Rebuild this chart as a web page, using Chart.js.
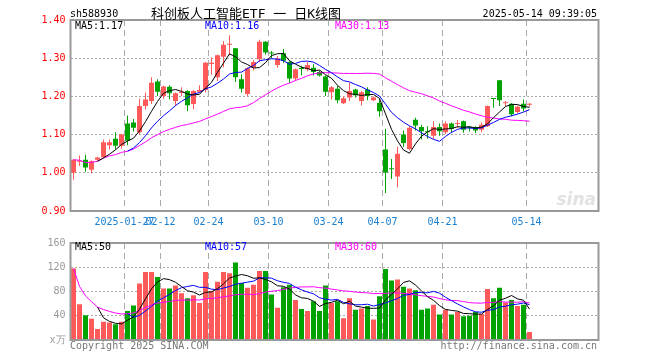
<!DOCTYPE html>
<html>
<head>
<meta charset="utf-8">
<script src="https://cdn.jsdelivr.net/npm/chart.js@4"></script>
<style>
  body { margin: 0; background: #fff; }
  #wrap { position: relative; width: 660px; height: 360px; }
  canvas { position: absolute; left: 0; }
  #kline { top: 0; }
  #vol { top: 232px; }
</style>
</head>
<body>
<div id="wrap">
  <canvas id="kline" width="660" height="232"></canvas>
  <canvas id="vol" width="660" height="128"></canvas>
</div>
<script>
// trading days shown on the chart
const dates = [
  '2025-01-14','2025-01-15','2025-01-16','2025-01-17','2025-01-20','2025-01-21','2025-01-22','2025-01-23','2025-01-24','2025-01-27',
  '2025-02-05','2025-02-06','2025-02-07','2025-02-10','2025-02-11','2025-02-12','2025-02-13','2025-02-14','2025-02-17','2025-02-18',
  '2025-02-19','2025-02-20','2025-02-21','2025-02-24','2025-02-25','2025-02-26','2025-02-27','2025-02-28','2025-03-03','2025-03-04',
  '2025-03-05','2025-03-06','2025-03-07','2025-03-10','2025-03-11','2025-03-12','2025-03-13','2025-03-14','2025-03-17','2025-03-18',
  '2025-03-19','2025-03-20','2025-03-21','2025-03-24','2025-03-25','2025-03-26','2025-03-27','2025-03-28','2025-03-31','2025-04-01',
  '2025-04-02','2025-04-03','2025-04-07','2025-04-08','2025-04-09','2025-04-10','2025-04-11','2025-04-14','2025-04-15','2025-04-16',
  '2025-04-17','2025-04-18','2025-04-21','2025-04-22','2025-04-23','2025-04-24','2025-04-25','2025-04-28','2025-04-29','2025-04-30',
  '2025-05-06','2025-05-07','2025-05-08','2025-05-09','2025-05-12','2025-05-13','2025-05-14'
];
const axisDates = ['2025-01-27','2025-02-12','2025-02-24','2025-03-10','2025-03-24','2025-04-07','2025-04-21','2025-05-14'];

const openP = [
  1.000,1.029,1.034,1.008,1.034,1.041,1.072,1.089,1.071,1.129,
  1.132,1.106,1.175,1.188,1.239,1.201,1.225,1.188,1.209,1.214,
  1.180,1.212,1.217,1.285,1.250,1.304,1.335,1.326,1.245,1.206,
  1.275,1.297,1.343,1.313,1.282,1.313,1.290,1.247,1.273,1.271,
  1.275,1.264,1.252,1.211,1.220,1.182,1.197,1.218,1.188,1.218,
  1.190,1.183,1.061,1.010,0.990,1.100,1.062,1.139,1.120,1.107,
  1.097,1.120,1.106,1.129,1.128,1.135,1.118,1.120,1.113,1.122,
  1.194,1.242,1.182,1.181,1.159,1.181,1.178
];
const highP = [
  1.036,1.045,1.047,1.033,1.042,1.087,1.087,1.106,1.102,1.150,
  1.141,1.194,1.210,1.250,1.245,1.228,1.229,1.210,1.224,1.216,
  1.216,1.229,1.290,1.302,1.310,1.345,1.360,1.327,1.258,1.276,
  1.295,1.348,1.345,1.319,1.306,1.324,1.292,1.273,1.280,1.290,
  1.284,1.268,1.255,1.227,1.227,1.200,1.236,1.220,1.214,1.224,
  1.200,1.194,1.115,1.036,1.068,1.111,1.122,1.144,1.126,1.122,
  1.135,1.129,1.135,1.132,1.138,1.137,1.122,1.122,1.132,1.176,
  1.194,1.243,1.188,1.183,1.176,1.192,1.183
];
const lowP = [
  0.982,1.018,1.003,0.998,1.032,1.040,1.061,1.061,1.063,1.072,
  1.108,1.100,1.166,1.180,1.201,1.194,1.192,1.175,1.201,1.161,
  1.166,1.211,1.210,1.257,1.240,1.276,1.308,1.238,1.210,1.200,
  1.268,1.290,1.310,1.300,1.275,1.288,1.236,1.240,1.255,1.266,
  1.255,1.252,1.201,1.192,1.182,1.180,1.188,1.197,1.176,1.190,
  1.188,1.147,0.947,0.984,0.962,1.068,1.059,1.111,1.087,1.089,
  1.089,1.097,1.101,1.105,1.118,1.105,1.108,1.104,1.106,1.120,
  1.170,1.175,1.175,1.148,1.155,1.161,1.173
];
const closeP = [
  1.034,1.032,1.014,1.030,1.040,1.080,1.080,1.071,1.100,1.084,
  1.118,1.175,1.192,1.236,1.212,1.226,1.208,1.208,1.212,1.177,
  1.214,1.217,1.288,1.288,1.308,1.335,1.338,1.250,1.220,1.274,
  1.290,1.343,1.315,1.312,1.299,1.293,1.247,1.271,1.272,1.282,
  1.264,1.255,1.212,1.224,1.190,1.195,1.214,1.203,1.211,1.201,
  1.197,1.161,1.001,1.009,1.050,1.078,1.118,1.124,1.109,1.106,
  1.120,1.109,1.129,1.115,1.130,1.113,1.117,1.111,1.126,1.175,
  1.193,1.190,1.184,1.153,1.173,1.168,1.179
];
// volume, 10k lots
const volume = [
  118,59,41,35,18,30,29,26,30,48,
  57,93,112,112,104,85,85,90,77,69,
  74,61,112,81,96,112,110,128,94,86,
  91,114,114,75,53,87,91,66,51,48,
  64,48,90,61,64,36,69,50,52,56,
  34,72,117,98,100,88,85,82,50,52,
  58,42,50,42,46,39,40,46,43,84,
  69,86,62,66,56,58,13
];
const priceTicks = [0.9, 1.0, 1.1, 1.2, 1.3, 1.4];
const volTicks = [0, 40, 80, 120, 160];

const UP = '#ff5a5a';
const DOWN = '#00a300';
const GRID = '#aaaaaa';
const FRAME = '#999999';
const MONO = '"DejaVu Sans Mono", monospace';
const SLOTS = 88;

// moving average indicator, MA30 falls back to the running mean at the start (as sina does)
function ma(src, n, fromStart) {
  return src.map((v, i) => {
    if (i < n - 1 && !fromStart) return null;
    const s = src.slice(Math.max(0, i - n + 1), i + 1);
    return s.reduce((a, b) => a + b, 0) / s.length;
  });
}

const labels = dates.concat(new Array(SLOTS - dates.length).fill(''));
const axisIdx = axisDates.map(d => dates.indexOf(d));
const candleColors = closeP.map((c, i) => c >= openP[i] ? UP : DOWN);

Chart.defaults.font.family = MONO;
Chart.defaults.font.size = 10;

const frame = {
  id: 'frame',
  afterDraw(chart) {
    const { ctx, chartArea: a } = chart;
    ctx.save();
    ctx.strokeStyle = FRAME;
    ctx.lineWidth = 2;
    ctx.strokeRect(a.left, a.top, a.right - a.left, a.bottom - a.top);
    ctx.restore();
  }
};

function xScale(showTicks) {
  return {
    type: 'category',
    offset: true,
    grid: {
      offset: true,
      drawTicks: false,
      lineWidth: 1,
      color: c => axisIdx.includes(c.index) ? GRID : 'rgba(0,0,0,0)'
    },
    border: { display: false, dash: [6, 4] },
    ticks: {
      display: showTicks,
      autoSkip: false,
      maxRotation: 0,
      padding: 5,
      labelOffset: -3,
      color: '#1a7fd0',
      callback: function (v, i) {
        const d = labels[i];
        if (!axisDates.includes(d)) return '';
        return d === axisDates[0] ? d : d.slice(5);
      }
    },
    afterFit: s => { s.height = showTicks ? 21 : 20; }
  };
}

function maText(ctx, items, y) {
  ctx.font = '10px ' + MONO;
  ctx.textAlign = 'left';
  ctx.textBaseline = 'alphabetic';
  items.forEach(t => { ctx.fillStyle = t[2]; ctx.fillText(t[0], t[1], y); });
}

new Chart(document.getElementById('kline'), {
  type: 'bar',
  data: {
    labels: labels,
    datasets: [
      { type: 'line', data: ma(closeP, 5), borderColor: '#000000', borderWidth: 1, pointRadius: 0, order: 1 },
      { type: 'line', data: ma(closeP, 10), borderColor: '#0000ff', borderWidth: 1, pointRadius: 0, order: 1 },
      { type: 'line', data: ma(closeP, 30, true), borderColor: '#ff00ff', borderWidth: 1, pointRadius: 0, order: 1 },
      { data: openP.map((o, i) => [o, closeP[i]]), backgroundColor: candleColors, barThickness: 5,
        minBarLength: 1, grouped: false, inflateAmount: 0, order: 2 },
      { data: lowP.map((l, i) => [l, highP[i]]), backgroundColor: candleColors, barThickness: 1,
        grouped: false, inflateAmount: 0, order: 3 }
    ]
  },
  options: {
    responsive: false,
    animation: false,
    devicePixelRatio: 1,
    layout: { padding: { top: 20, right: 61.5, left: 0, bottom: 0 } },
    plugins: { legend: { display: false }, tooltip: { enabled: false } },
    scales: {
      x: xScale(true),
      y: {
        min: 0.9,
        max: 1.4,
        afterBuildTicks: s => { s.ticks = priceTicks.map(v => ({ value: v })); },
        grid: { drawTicks: false, color: GRID, lineWidth: 1 },
        border: { display: false, dash: [2, 2] },
        ticks: { color: '#ff0000', padding: 5, callback: v => v.toFixed(2) },
        afterFit: s => { s.width = 70.5; }
      }
    }
  },
  plugins: [frame, {
    id: 'texts',
    beforeDatasetsDraw(chart) {
      const ctx = chart.ctx;
      ctx.save();
      ctx.font = 'italic bold 17px "DejaVu Sans", sans-serif';
      ctx.fillStyle = '#e2e2e2';
      ctx.textAlign = 'right';
      ctx.fillText('sina', 596, 205);
      ctx.restore();
    },
    afterDraw(chart) {
      const ctx = chart.ctx;
      ctx.save();
      ctx.fillStyle = '#000';
      ctx.font = '10px ' + MONO;
      ctx.textAlign = 'left';
      ctx.fillText('sh588930', 70, 17);
      ctx.textAlign = 'right';
      ctx.fillText('2025-05-14 09:39:05', 597, 17);
      ctx.font = '13px ' + MONO + ', "Noto Sans CJK SC"';
      ctx.font = '13px "DejaVu Sans Mono", "Noto Sans CJK SC", monospace';
      ctx.textAlign = 'left';
      ctx.fillText('科创板人工智能ETF 一 日K线图', 151, 18);
      maText(ctx, [['MA5:1.17', 75, '#000000'], ['MA10:1.16', 205, '#0000ff'], ['MA30:1.13', 335, '#ff00ff']], 29);
      ctx.restore();
    }
  }]
});

new Chart(document.getElementById('vol'), {
  type: 'bar',
  data: {
    labels: labels,
    datasets: [
      { type: 'line', data: ma(volume, 5), borderColor: '#000000', borderWidth: 1, pointRadius: 0, order: 1 },
      { type: 'line', data: ma(volume, 10), borderColor: '#0000ff', borderWidth: 1, pointRadius: 0, order: 1 },
      { type: 'line', data: ma(volume, 30, true), borderColor: '#ff00ff', borderWidth: 1, pointRadius: 0, order: 1 },
      { data: volume, backgroundColor: candleColors, barThickness: 5, grouped: false, inflateAmount: 0, order: 2 }
    ]
  },
  options: {
    responsive: false,
    animation: false,
    devicePixelRatio: 1,
    layout: { padding: { top: 8, right: 61.5, left: 0, bottom: 0 } },
    plugins: { legend: { display: false }, tooltip: { enabled: false } },
    scales: {
      x: xScale(false),
      y: {
        min: 0,
        max: 160,
        afterBuildTicks: s => { s.ticks = volTicks.map(v => ({ value: v })); },
        grid: { drawTicks: false, color: GRID, lineWidth: 1 },
        border: { display: false, dash: [2, 2] },
        ticks: { color: '#999999', padding: 5, callback: v => v === 0 ? 'x万' : String(v) },
        afterFit: s => { s.width = 70.5; }
      }
    }
  },
  plugins: [frame, {
    id: 'volTexts',
    afterDraw(chart) {
      const ctx = chart.ctx;
      ctx.save();
      maText(ctx, [['MA5:50', 75, '#000000'], ['MA10:57', 205, '#0000ff'], ['MA30:60', 335, '#ff00ff']], 18);
      ctx.fillStyle = '#777777';
      ctx.textAlign = 'left';
      ctx.fillText('Copyright 2025 SINA.COM', 70, 117);
      ctx.textAlign = 'right';
      ctx.fillText('http://finance.sina.com.cn', 597, 117);
      ctx.restore();
    }
  }]
});
</script>
</body>
</html>
